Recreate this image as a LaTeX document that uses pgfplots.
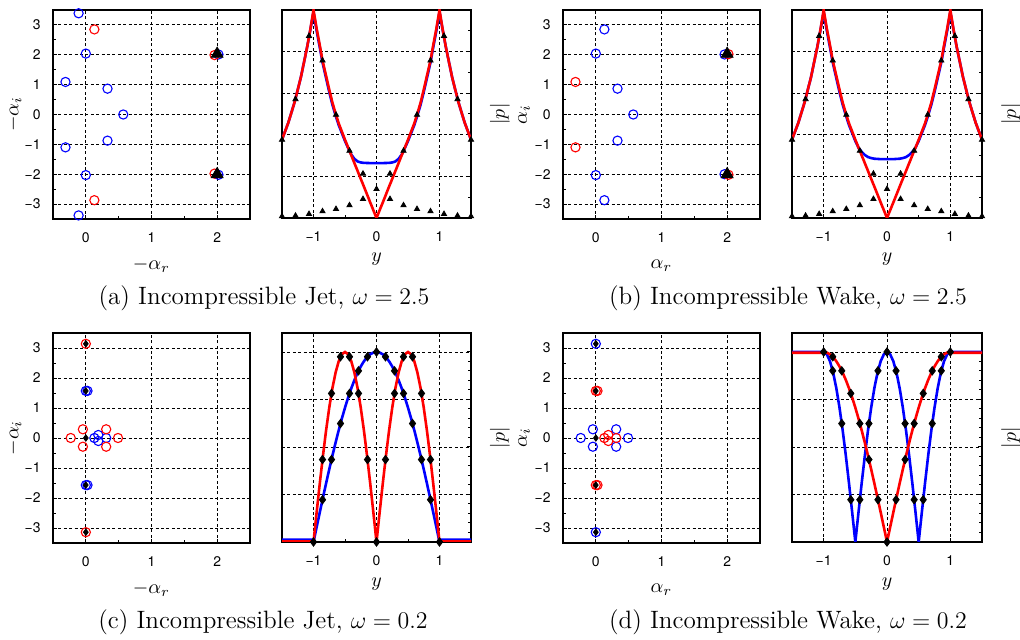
\documentclass[border=0pt]{standalone}
\usepackage{fontspec}
\usepackage{pgfplots}
\pgfplotsset{compat=1.18}
\newfontfamily\heros{TeX Gyre Heros}
\definecolor{pblue}{rgb}{0,0,1}
\definecolor{pred}{rgb}{1,0,0}
\pgfplotsset{
  base/.style={
    scale only axis,
    axis line style={line width=0.6bp},
    tick align=inside,
    major tick length=2bp, minor tick length=1.6bp,
    every tick/.style={black, line width=0.5bp},
    grid=major,
    major grid style={black, line width=0.45bp, dash pattern=on 1.5bp off 1.2bp},
    tick label style={font=\heros\fontsize{7}{8}\selectfont},
    xticklabel style={yshift=-5.5bp, inner sep=1bp},
    yticklabel style={xshift=-2.7bp},
    label style={font=\fontsize{10}{12}\selectfont},
  },
  eig/.style={base, width=98.5bp, height=104.5bp,
    xmin=-0.5, xmax=2.5, ymin=-3.5, ymax=3.5,
    xtick={0,1,2}, xticklabels={0,1,2},
    ytick={-3,-2,-1,0,1,2,3}, yticklabels={−3,−2,−1,0,1,2,3},
    minor x tick num=1, minor y tick num=1,
    tick pos=left,
    xlabel style={at={(axis description cs:0.5,-0.222)}, anchor=center, inner sep=1bp},
    ylabel style={at={(axis description cs:-0.198,0.5)}, anchor=center},
  },
  prof/.style={base, width=94.5bp, height=104bp, xmin=-1.5, xmax=1.5, ymin=0, ymax=1,
    xtick={-1,0,1}, xticklabels={−1,0,1}, minor x tick num=1,
    xtick pos=left, ytick pos=right, yticklabels={},
    xlabel={$y$}, ylabel={$|p|$},
    xlabel style={at={(axis description cs:0.5,-0.2)}, anchor=center, inner sep=1bp},
    ylabel style={at={(axis description cs:1.153,0.5)}, anchor=center},
  },
  bcirc/.style={only marks, mark=o, mark size=2.3bp, pblue, line width=0.55bp},
  rcirc/.style={only marks, mark=o, mark size=2.3bp, pred, line width=0.55bp},
  btri/.style={only marks, mark=triangle*, mark size=3.4bp, black},
  stri/.style={only marks, mark=triangle*, mark size=1.5bp, black},
  bdia/.style={only marks, mark=diamond*, mark size=1.6bp, black},
  pdia/.style={only marks, mark=diamond*, mark size=2.1bp, black},
  bline/.style={pblue, line width=1.3bp, no marks},
  rline/.style={pred, line width=1.3bp, no marks},
}
\begin{document}
\begin{tikzpicture}
\path[use as bounding box] (0,0) rectangle (510bp,320bp);

% ---------- (a) left
\begin{axis}[eig, at={(26.5bp,210.5bp)}, anchor=south west,
  xlabel={$-\alpha_r$}, ylabel={$-\alpha_i$}]
\addplot[bcirc] coordinates {(-0.11,3.39) (0,2.04) (-0.31,1.09) (0.33,0.865) (0.57,0) (0.33,-0.876) (-0.31,-1.10) (0,-2.03) (-0.11,-3.38) (2.02,2.01) (2.02,-2.02)};
\addplot[rcirc] coordinates {(0.13,2.85) (0.13,-2.87) (1.96,1.99) (1.96,-1.98)};
\addplot[btri] coordinates {(2,2.03) (2,-2.0)};
\end{axis}

% ---------- (a) right
\begin{axis}[prof, at={(141bp,211bp)}, anchor=south west,
  ytick={0,0.2,0.4,0.6,0.8,1}, minor y tick num=1]
\addplot[bline] coordinates {(-1.5,0.377) (-1.4,0.458) (-1.3,0.557) (-1.2,0.677) (-1.1,0.823) (-1.05,0.905) (-1,0.99) (-0.95,0.9) (-0.9,0.82) (-0.857,0.748) (-0.8,0.672) (-0.75,0.606) (-0.7,0.545) (-0.643,0.487) (-0.6,0.447) (-0.5,0.37) (-0.45,0.336) (-0.4,0.305) (-0.35,0.284) (-0.3,0.272) (-0.25,0.267) (-0.2,0.265) (-0.1,0.264) (0,0.264) (0.1,0.264) (0.2,0.265) (0.25,0.267) (0.3,0.272) (0.35,0.284) (0.4,0.305) (0.45,0.336) (0.5,0.37) (0.6,0.447) (0.643,0.487) (0.7,0.545) (0.75,0.606) (0.8,0.672) (0.857,0.748) (0.9,0.82) (0.95,0.9) (1,0.99) (1.05,0.905) (1.1,0.823) (1.2,0.677) (1.3,0.557) (1.4,0.458) (1.5,0.377)};
\addplot[rline] coordinates {(-1.5,0.377) (-1.4,0.458) (-1.3,0.557) (-1.2,0.677) (-1.1,0.823) (-1.05,0.907) (-1,1) (-0.95,0.91) (-0.9,0.83) (-0.857,0.757) (-0.8,0.683) (-0.75,0.617) (-0.7,0.555) (-0.643,0.496) (-0.6,0.455) (-0.5,0.376) (-0.429,0.323) (-0.3,0.226) (-0.2,0.151) (-0.1,0.075) (0,0) (0.1,0.075) (0.2,0.151) (0.3,0.226) (0.429,0.323) (0.5,0.376) (0.6,0.455) (0.643,0.496) (0.7,0.555) (0.75,0.617) (0.8,0.683) (0.857,0.757) (0.9,0.83) (0.95,0.91) (1,1) (1.05,0.907) (1.1,0.823) (1.2,0.677) (1.3,0.557) (1.4,0.458) (1.5,0.377)};
\addplot[stri] coordinates {(-1.5,0.376) (-1.2857,0.571) (-1.0714,0.875) (-0.8571,0.757) (-0.6429,0.496) (-0.4286,0.323) (-0.2143,0.213) (0.2143,0.213) (0.4286,0.323) (0.6429,0.496) (0.8571,0.757) (1.0714,0.875) (1.2857,0.571) (1.5,0.376)};
\addplot[stri] coordinates {(-1.5,0.008) (-1.2857,0.011) (-1.0714,0.019) (-0.8571,0.032) (-0.6429,0.043) (-0.4286,0.061) (-0.2143,0.091) (0,0.139) (0.2143,0.091) (0.4286,0.061) (0.6429,0.043) (0.8571,0.032) (1.0714,0.019) (1.2857,0.011) (1.5,0.008)};
\end{axis}

% ---------- (b) left
\begin{axis}[eig, at={(281.5bp,210.5bp)}, anchor=south west,
  xlabel={$\alpha_r$}, ylabel={$\alpha_i$}]
\addplot[bcirc] coordinates {(0.13,2.85) (0,2.04) (0.33,0.865) (0.57,0) (0.33,-0.876) (0,-2.03) (0.13,-2.87) (1.96,2.01) (1.96,-2.0)};
\addplot[rcirc] coordinates {(-0.31,1.09) (-0.31,-1.10) (2.02,2.02) (2.02,-2.02)};
\addplot[btri] coordinates {(2,2.03) (2,-2.0)};
\end{axis}

% ---------- (b) right
\begin{axis}[prof, at={(396bp,211bp)}, anchor=south west, width=95bp,
  ytick={0,0.2,0.4,0.6,0.8,1}, minor y tick num=1]
\addplot[bline] coordinates {(-1.5,0.377) (-1.4,0.458) (-1.3,0.557) (-1.2,0.677) (-1.1,0.823) (-1.05,0.905) (-1,0.99) (-0.95,0.9) (-0.9,0.82) (-0.857,0.748) (-0.8,0.672) (-0.75,0.606) (-0.7,0.545) (-0.643,0.487) (-0.6,0.447) (-0.5,0.37) (-0.45,0.338) (-0.4,0.318) (-0.35,0.303) (-0.3,0.293) (-0.25,0.288) (-0.2,0.285) (-0.1,0.283) (0,0.283) (0.1,0.283) (0.2,0.285) (0.25,0.288) (0.3,0.293) (0.35,0.303) (0.4,0.318) (0.45,0.338) (0.5,0.37) (0.6,0.447) (0.643,0.487) (0.7,0.545) (0.75,0.606) (0.8,0.672) (0.857,0.748) (0.9,0.82) (0.95,0.9) (1,0.99) (1.05,0.905) (1.1,0.823) (1.2,0.677) (1.3,0.557) (1.4,0.458) (1.5,0.377)};
\addplot[rline] coordinates {(-1.5,0.377) (-1.4,0.458) (-1.3,0.557) (-1.2,0.677) (-1.1,0.823) (-1.05,0.907) (-1,1) (-0.95,0.91) (-0.9,0.83) (-0.857,0.757) (-0.8,0.683) (-0.75,0.617) (-0.7,0.555) (-0.643,0.496) (-0.6,0.455) (-0.5,0.376) (-0.429,0.323) (-0.3,0.226) (-0.2,0.151) (-0.1,0.075) (0,0) (0.1,0.075) (0.2,0.151) (0.3,0.226) (0.429,0.323) (0.5,0.376) (0.6,0.455) (0.643,0.496) (0.7,0.555) (0.75,0.617) (0.8,0.683) (0.857,0.757) (0.9,0.83) (0.95,0.91) (1,1) (1.05,0.907) (1.1,0.823) (1.2,0.677) (1.3,0.557) (1.4,0.458) (1.5,0.377)};
\addplot[stri] coordinates {(-1.5,0.376) (-1.2857,0.571) (-1.0714,0.875) (-0.8571,0.757) (-0.6429,0.496) (-0.4286,0.323) (-0.2143,0.213) (0.2143,0.213) (0.4286,0.323) (0.6429,0.496) (0.8571,0.757) (1.0714,0.875) (1.2857,0.571) (1.5,0.376)};
\addplot[stri] coordinates {(-1.5,0.008) (-1.2857,0.011) (-1.0714,0.019) (-0.8571,0.032) (-0.6429,0.043) (-0.4286,0.061) (-0.2143,0.091) (0,0.139) (0.2143,0.091) (0.4286,0.061) (0.6429,0.043) (0.8571,0.032) (1.0714,0.019) (1.2857,0.011) (1.5,0.008)};
\end{axis}

% ---------- (c) left
\begin{axis}[eig, at={(26.5bp,48.5bp)}, anchor=south west, height=105bp,
  xlabel={$-\alpha_r$}, ylabel={$-\alpha_i$}]
\addplot[bcirc] coordinates {(0,1.57) (0.025,1.57) (0,-1.57) (0.025,-1.57) (0.13,0) (0.19,0.1) (0.19,-0.1) (0.31,0)};
\addplot[rcirc] coordinates {(0,3.14) (0,-3.14) (-0.23,0) (-0.045,0.29) (-0.045,-0.29) (0.31,0.29) (0.31,-0.29) (0.49,0)};
\addplot[bdia] coordinates {(0,3.14) (0,1.57) (0,0) (0,-1.57) (0,-3.14)};
\end{axis}

% ---------- (c) right
\begin{axis}[prof, at={(141bp,49bp)}, anchor=south west, height=104.5bp,
  ymax=1.1, ytick={0,0.25,0.5,0.75,1}, minor y tick num=4]
\addplot[bline] coordinates {(-1.5,0.012) (-1.01,0.012) (-1,0) (-0.95,0.07846) (-0.9,0.15643) (-0.85,0.23345) (-0.8,0.30902) (-0.75,0.38268) (-0.7,0.45399) (-0.65,0.5225) (-0.6,0.58779) (-0.55,0.64945) (-0.5,0.70711) (-0.45,0.76041) (-0.4,0.80902) (-0.35,0.85264) (-0.3,0.89101) (-0.25,0.92388) (-0.2,0.95106) (-0.15,0.97237) (-0.1,0.98769) (-0.05,0.99692) (0,1) (0.05,0.99692) (0.1,0.98769) (0.15,0.97237) (0.2,0.95106) (0.25,0.92388) (0.3,0.89101) (0.35,0.85264) (0.4,0.80902) (0.45,0.76041) (0.5,0.70711) (0.55,0.64945) (0.6,0.58779) (0.65,0.5225) (0.7,0.45399) (0.75,0.38268) (0.8,0.30902) (0.85,0.23345) (0.9,0.15643) (0.95,0.07846) (1,0) (1.01,0.012) (1.5,0.012)};
\addplot[rline] coordinates {(-1.5,0.003) (-1.01,0.003) (-1,0) (-0.95,0.15643) (-0.9,0.30902) (-0.85,0.45399) (-0.8,0.58779) (-0.75,0.70711) (-0.7,0.80902) (-0.65,0.89101) (-0.6,0.95106) (-0.55,0.98769) (-0.5,1) (-0.45,0.98769) (-0.4,0.95106) (-0.35,0.89101) (-0.3,0.80902) (-0.25,0.70711) (-0.2,0.58779) (-0.15,0.45399) (-0.1,0.30902) (-0.05,0.15643) (0,0) (0.05,0.15643) (0.1,0.30902) (0.15,0.45399) (0.2,0.58779) (0.25,0.70711) (0.3,0.80902) (0.35,0.89101) (0.4,0.95106) (0.45,0.98769) (0.5,1) (0.55,0.98769) (0.6,0.95106) (0.65,0.89101) (0.7,0.80902) (0.75,0.70711) (0.8,0.58779) (0.85,0.45399) (0.9,0.30902) (0.95,0.15643) (1,0) (1.01,0.003) (1.5,0.003)};
\addplot[pdia] coordinates {(-1,0) (-0.857143,0.22252) (-0.714286,0.43388) (-0.571429,0.62349) (-0.428571,0.78183) (-0.285714,0.90097) (-0.142857,0.97493) (0,1) (0.142857,0.97493) (0.285714,0.90097) (0.428571,0.78183) (0.571429,0.62349) (0.714286,0.43388) (0.857143,0.22252) (1,0)};
\addplot[pdia] coordinates {(-0.857143,0.43388) (-0.714286,0.78183) (-0.571429,0.97493) (-0.428571,0.97493) (-0.285714,0.78183) (-0.142857,0.43388) (0,0) (0.142857,0.43388) (0.285714,0.78183) (0.428571,0.97493) (0.571429,0.97493) (0.714286,0.78183) (0.857143,0.43388)};
\end{axis}

% ---------- (d) left
\begin{axis}[eig, at={(281.5bp,48.5bp)}, anchor=south west, height=105bp,
  xlabel={$\alpha_r$}, ylabel={$\alpha_i$}]
\addplot[bcirc] coordinates {(0,3.14) (0,-3.14) (-0.23,0) (-0.045,0.29) (-0.045,-0.29) (0.31,0.29) (0.31,-0.29) (0.49,0)};
\addplot[rcirc] coordinates {(0,1.57) (0.025,1.57) (0,-1.57) (0.025,-1.57) (0.13,0) (0.19,0.1) (0.19,-0.1) (0.31,0)};
\addplot[bdia] coordinates {(0,3.14) (0,1.57) (0,0) (0,-1.57) (0,-3.14)};
\end{axis}

% ---------- (d) right
\begin{axis}[prof, at={(396bp,49bp)}, anchor=south west, width=95bp, height=104.5bp,
  ymax=1.1, ytick={0,0.25,0.5,0.75,1}, minor y tick num=4]
\addplot[bline] coordinates {(-1.5,1) (-1,1) (-0.95,0.98769) (-0.9,0.95106) (-0.85,0.89101) (-0.8,0.80902) (-0.75,0.70711) (-0.7,0.58779) (-0.65,0.45399) (-0.6,0.30902) (-0.55,0.15643) (-0.5,0) (-0.45,0.15643) (-0.4,0.30902) (-0.35,0.45399) (-0.3,0.58779) (-0.25,0.70711) (-0.2,0.80902) (-0.15,0.89101) (-0.1,0.95106) (-0.05,0.98769) (0,1) (0.05,0.98769) (0.1,0.95106) (0.15,0.89101) (0.2,0.80902) (0.25,0.70711) (0.3,0.58779) (0.35,0.45399) (0.4,0.30902) (0.45,0.15643) (0.5,0) (0.55,0.15643) (0.6,0.30902) (0.65,0.45399) (0.7,0.58779) (0.75,0.70711) (0.8,0.80902) (0.85,0.89101) (0.9,0.95106) (0.95,0.98769) (1,1) (1.5,1)};
\addplot[rline] coordinates {(-1.5,0.996) (-1.01,0.996) (-1,1) (-0.95,0.99692) (-0.9,0.98769) (-0.85,0.97237) (-0.8,0.95106) (-0.75,0.92388) (-0.7,0.89101) (-0.65,0.85264) (-0.6,0.80902) (-0.55,0.76041) (-0.5,0.70711) (-0.45,0.64945) (-0.4,0.58779) (-0.35,0.5225) (-0.3,0.45399) (-0.25,0.38268) (-0.2,0.30902) (-0.15,0.23345) (-0.1,0.15643) (-0.05,0.07846) (0,0) (0.05,0.07846) (0.1,0.15643) (0.15,0.23345) (0.2,0.30902) (0.25,0.38268) (0.3,0.45399) (0.35,0.5225) (0.4,0.58779) (0.45,0.64945) (0.5,0.70711) (0.55,0.76041) (0.6,0.80902) (0.65,0.85264) (0.7,0.89101) (0.75,0.92388) (0.8,0.95106) (0.85,0.97237) (0.9,0.98769) (0.95,0.99692) (1,1) (1.01,0.996) (1.5,0.996)};
\addplot[pdia] coordinates {(-1,1) (-0.857143,0.90097) (-0.714286,0.62349) (-0.571429,0.22252) (-0.428571,0.22252) (-0.285714,0.62349) (-0.142857,0.90097) (0,1) (0.142857,0.90097) (0.285714,0.62349) (0.428571,0.22252) (0.571429,0.22252) (0.714286,0.62349) (0.857143,0.90097) (1,1)};
\addplot[pdia] coordinates {(-0.857143,0.97493) (-0.714286,0.90097) (-0.571429,0.78183) (-0.428571,0.62349) (-0.285714,0.43388) (-0.142857,0.22252) (0,0) (0.142857,0.22252) (0.285714,0.43388) (0.428571,0.62349) (0.571429,0.78183) (0.714286,0.90097) (0.857143,0.97493)};
\end{axis}

% ---------- captions
\node[font=\fontsize{12.6}{15}\selectfont] at (132bp,171bp) {(a) Incompressible Jet, $\omega = 2.5$};
\node[font=\fontsize{12.6}{15}\selectfont] at (394bp,171bp) {(b) Incompressible Wake, $\omega = 2.5$};
\node[font=\fontsize{12.6}{15}\selectfont] at (131.5bp,8.75bp) {(c) Incompressible Jet, $\omega = 0.2$};
\node[font=\fontsize{12.6}{15}\selectfont] at (394bp,8.75bp) {(d) Incompressible Wake, $\omega = 0.2$};
\end{tikzpicture}
\end{document}
